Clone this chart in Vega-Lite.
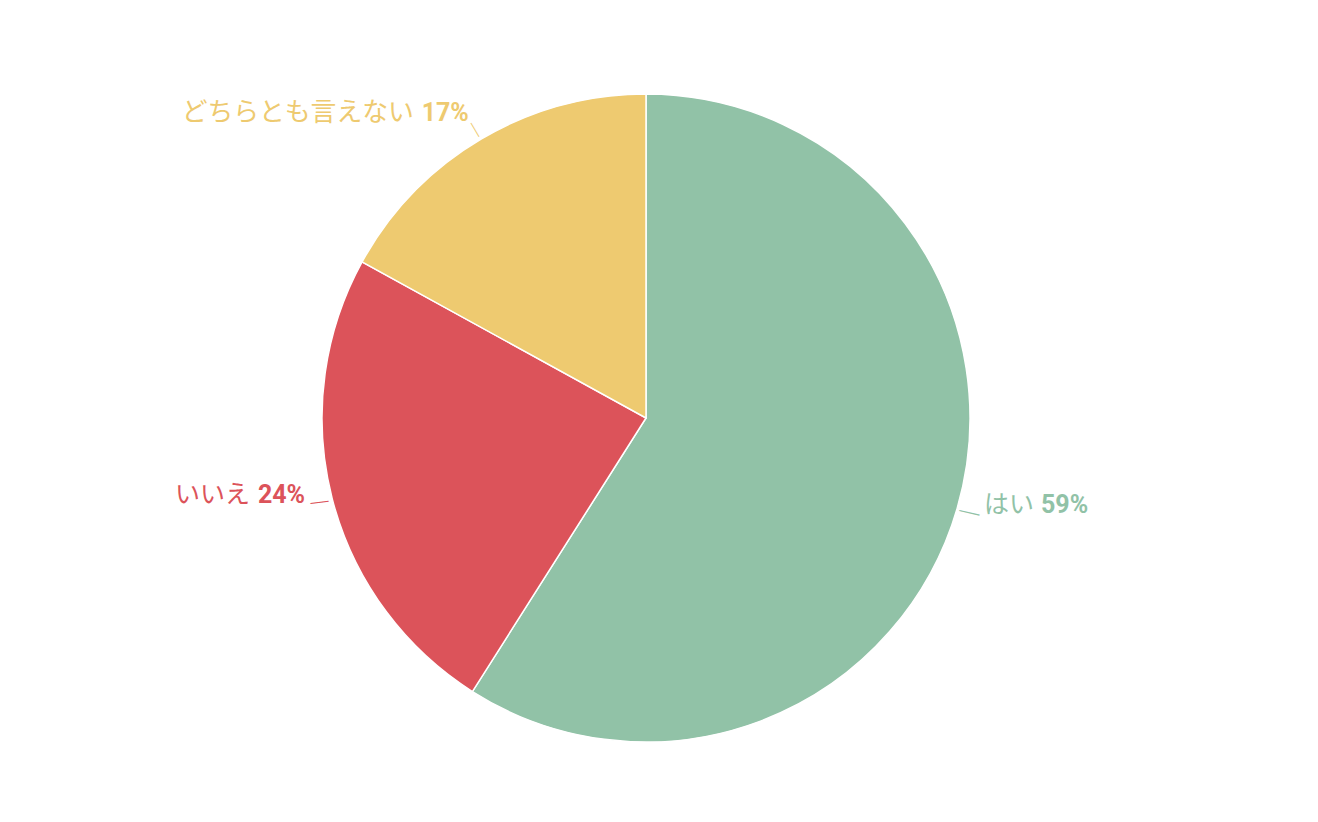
{
  "$schema": "https://vega.github.io/schema/vega-lite/v6.json",
  "width": 1292,
  "height": 836,
  "autosize": "none",
  "padding": 0,
  "background": "white",
  "config": {"view": {"stroke": null}},
  "data": {"values": [
    {"cat": "はい", "value": 59, "pct": "59%"},
    {"cat": "いいえ", "value": 24, "pct": "24%"},
    {"cat": "どちらとも言えない", "value": 17, "pct": "17%"}
  ]},
  "encoding": {
    "theta": {"field": "value", "type": "quantitative", "stack": true},
    "order": {"field": "value", "type": "quantitative", "sort": "descending"},
    "color": {"field": "cat", "type": "nominal", "legend": null,
      "scale": {"domain": ["はい", "いいえ", "どちらとも言えない"], "range": ["#91C2A7", "#DC535A", "#EECA70"]}}
  },
  "layer": [
    {"mark": {"type": "arc", "outerRadius": 324, "stroke": "white", "strokeWidth": 1.5}},
    {"mark": {"type": "text", "radius": 352, "align": "left", "baseline": "middle", "dx": 0, "dy": -11, "fontSize": 25, "font": "Roboto, 'Noto Sans CJK JP'"},
     "encoding": {"text": {"field": "cat"}, "opacity": {"condition": {"test": "datum.cat === 'はい'", "value": 1}, "value": 0}}},
    {"mark": {"type": "text", "radius": 352, "align": "left", "baseline": "middle", "dx": 57, "dy": -11, "fontSize": 25, "fontWeight": "bold", "font": "Roboto, 'Noto Sans CJK JP'"},
     "encoding": {"text": {"field": "pct"}, "opacity": {"condition": {"test": "datum.cat === 'はい'", "value": 1}, "value": 0}}},
    {"mark": {"type": "text", "radius": 352, "align": "right", "baseline": "middle", "dx": -55, "dy": -10.5, "fontSize": 25, "font": "Roboto, 'Noto Sans CJK JP'"},
     "encoding": {"text": {"field": "cat"}, "opacity": {"condition": {"test": "datum.cat === 'いいえ'", "value": 1}, "value": 0}}},
    {"mark": {"type": "text", "radius": 352, "align": "right", "baseline": "middle", "dx": 0, "dy": -10.5, "fontSize": 25, "fontWeight": "bold", "font": "Roboto, 'Noto Sans CJK JP'"},
     "encoding": {"text": {"field": "pct"}, "opacity": {"condition": {"test": "datum.cat === 'いいえ'", "value": 1}, "value": 0}}},
    {"mark": {"type": "text", "radius": 352, "align": "right", "baseline": "middle", "dx": -53, "dy": -2, "fontSize": 25.8, "font": "Roboto, 'Noto Sans CJK JP'"},
     "encoding": {"text": {"field": "cat"}, "opacity": {"condition": {"test": "datum.cat === 'どちらとも言えない'", "value": 1}, "value": 0}}},
    {"mark": {"type": "text", "radius": 352, "align": "right", "baseline": "middle", "dx": 2, "dy": -2, "fontSize": 25, "fontWeight": "bold", "font": "Roboto, 'Noto Sans CJK JP'"},
     "encoding": {"text": {"field": "pct"}, "opacity": {"condition": {"test": "datum.cat === 'どちらとも言えない'", "value": 1}, "value": 0}}},
    {"mark": {"type": "text", "radius": 337, "align": "center", "baseline": "middle", "angle": 13, "fontSize": 26, "fontWeight": 300, "font": "'Noto Sans CJK JP'"},
     "encoding": {"text": {"value": "—"}, "opacity": {"condition": {"test": "datum.cat === 'はい'", "value": 1}, "value": 0}}},
    {"mark": {"type": "text", "radius": 337, "align": "center", "baseline": "middle", "angle": -7, "fontSize": 23, "fontWeight": 300, "font": "'Noto Sans CJK JP'"},
     "encoding": {"text": {"value": "—"}, "opacity": {"condition": {"test": "datum.cat === 'いいえ'", "value": 1}, "value": 0}}},
    {"mark": {"type": "text", "radius": 335, "align": "center", "baseline": "middle", "angle": 59.5, "fontSize": 20, "fontWeight": 300, "font": "'Noto Sans CJK JP'"},
     "encoding": {"text": {"value": "—"}, "opacity": {"condition": {"test": "datum.cat === 'どちらとも言えない'", "value": 1}, "value": 0}}}
  ]
}
